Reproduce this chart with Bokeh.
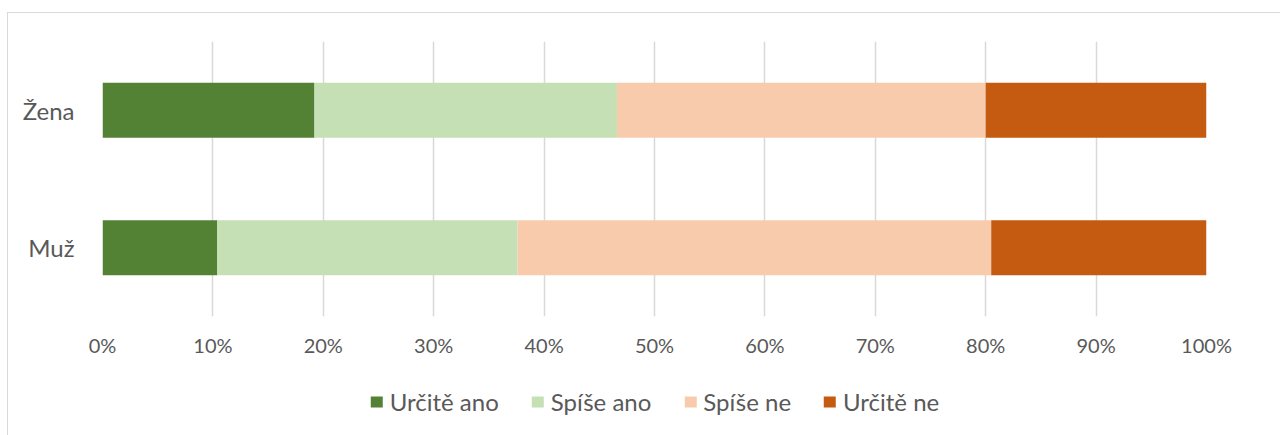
from bokeh.plotting import figure
from bokeh.layouts import column
from bokeh.models import NumeralTickFormatter, FixedTicker, Legend, LegendItem
from bokeh.embed import file_html
from bokeh.resources import INLINE

categories = ["Muž", "Žena"]
series = ["Určitě ano", "Spíše ano", "Spíše ne", "Určitě ne"]
urcite_ano = [10.4, 19.2]
spise_ano = [27.2, 27.4]
spise_ne = [42.9, 33.4]
urcite_ne = [19.5, 20.0]
colors = ["#548235", "#C5E0B4", "#F8CBAD", "#C55A11"]
tick_values = [0.0, 0.1, 0.2, 0.3, 0.4, 0.5, 0.6, 0.7, 0.8, 0.9, 1.0]

FONT = "Lato"
data = {"cat": categories}
for name, vals in zip(series, [urcite_ano, spise_ano, spise_ne, urcite_ne]):
    data[name] = [v / 100.0 for v in vals]

p = figure(y_range=categories, x_range=(0, 1), width=1272, height=350,
           output_backend="svg", toolbar_location=None,
           min_border_left=94, min_border_right=42, min_border_top=28, min_border_bottom=47)
p.outline_line_color = None

renderers = p.hbar_stack(series, y="cat", height=0.4, color=colors, source=data, line_color=None)

p.xaxis.ticker = FixedTicker(ticks=tick_values)
p.xaxis.formatter = NumeralTickFormatter(format="0%")
p.xaxis.axis_line_color = None
p.xaxis.major_tick_line_color = None
p.xaxis.minor_tick_line_color = None
p.xaxis.major_label_standoff = 10
p.xaxis.major_label_text_font = FONT
p.xaxis.major_label_text_font_size = "20px"
p.xaxis.major_label_text_color = "#595959"

p.yaxis.axis_line_color = None
p.yaxis.major_tick_line_color = None
p.yaxis.minor_tick_line_color = None
p.yaxis.major_label_standoff = 22
p.yaxis.major_label_text_font = FONT
p.yaxis.major_label_text_font_size = "24px"
p.yaxis.major_label_text_color = "#595959"

p.xgrid.grid_line_color = "#d9d9d9"
p.xgrid.grid_line_width = 1.5
p.ygrid.grid_line_color = None

# legend strip below the chart (same series, hidden swatch renderers)
lf = figure(y_range=categories, x_range=(0, 1), width=1272, height=76,
            output_backend="svg", toolbar_location=None,
            x_axis_location=None, y_axis_location=None,
            min_border_left=94, min_border_right=74, min_border_top=0, min_border_bottom=0)
lf.outline_line_color = None
lf.grid.visible = False
legend_renderers = lf.hbar_stack(series, y="cat", height=0.4, color=colors, source=data, line_color=None)
for r in legend_renderers:
    r.visible = False

legend = Legend(items=[LegendItem(label=s, renderers=[r]) for s, r in zip(series, legend_renderers)],
                orientation="horizontal", location="center")
legend.glyph_width = 15
legend.glyph_height = 14
legend.label_height = 14
legend.label_text_font = FONT
legend.label_text_font_size = "24px"
legend.label_text_color = "#595959"
legend.label_text_baseline = "middle"
legend.spacing = 31
legend.label_standoff = 6
legend.padding = 0
legend.margin = 0
legend.border_line_color = None
legend.background_fill_alpha = 0
legend.inactive_fill_alpha = 0
legend.click_policy = "none"
lf.add_layout(legend, "center")

layout = column(p, lf, styles={"border-left": "1px solid #d9d9d9", "border-top": "1px solid #d9d9d9",
                               "margin-top": "12px", "margin-left": "7px"})

open("out.html", "w").write(file_html(layout, INLINE))
